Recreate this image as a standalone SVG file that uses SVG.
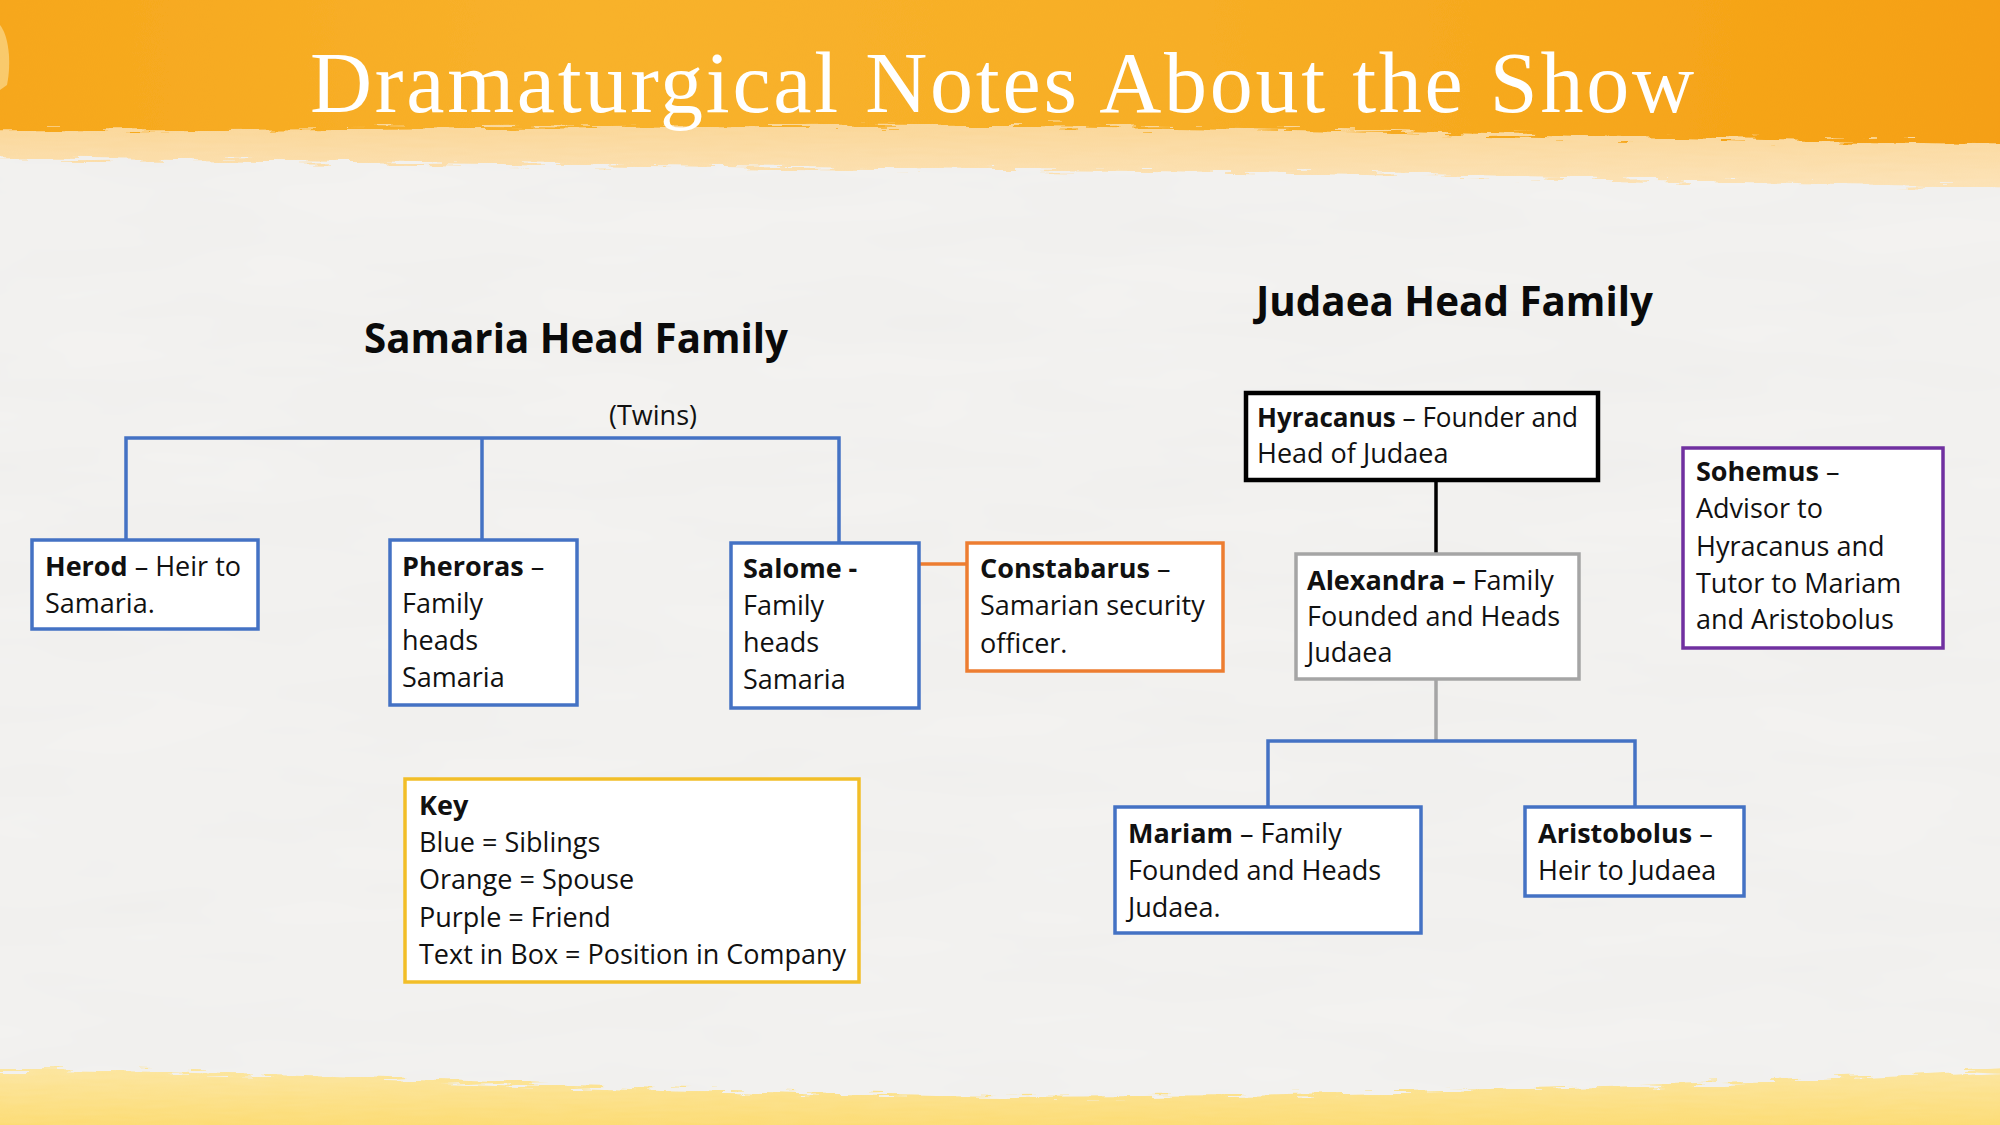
<svg xmlns="http://www.w3.org/2000/svg" width="2000" height="1125" viewBox="0 0 2000 1125">
<style>
  .t{font-family:"Open Sans","Liberation Sans",sans-serif;font-size:27px;fill:#111}
  .b{font-weight:bold}
  .h{font-family:"Open Sans","Liberation Sans",sans-serif;font-size:42px;font-weight:bold;fill:#0a0a0a}
  .box{fill:#fff;stroke-width:3.5}
  .blue{stroke:#4472C4}
  .orange{stroke:#ED7D31}
  .grey{stroke:#A5A5A5}
  .black{stroke:#000;stroke-width:4.5}
  .purple{stroke:#7030A0}
  .yellow{stroke:#F2BE28}
  .ln{fill:none;stroke-width:3.5}
</style>
<defs>
  <linearGradient id="topH" x1="0" y1="0" x2="1" y2="0">
    <stop offset="0" stop-color="#F6A61A"/>
    <stop offset="0.3" stop-color="#F8B22C"/>
    <stop offset="0.6" stop-color="#F7AE25"/>
    <stop offset="1" stop-color="#F59F12"/>
  </linearGradient>
  <linearGradient id="paleV" x1="0" y1="0" x2="0" y2="1">
    <stop offset="0.6" stop-color="#FAD28C"/>
    <stop offset="1" stop-color="#FCE3B8"/>
  </linearGradient>
  <linearGradient id="botV" x1="0" y1="0" x2="0" y2="1">
    <stop offset="0" stop-color="#FCE6A2"/>
    <stop offset="1" stop-color="#FCD658"/>
  </linearGradient>
  <filter id="rough" x="-5%" y="-30%" width="110%" height="160%">
    <feTurbulence type="fractalNoise" baseFrequency="0.03 0.25" numOctaves="2" seed="3"/>
    <feDisplacementMap in="SourceGraphic" scale="16" xChannelSelector="R" yChannelSelector="G"/>
  </filter>
  <filter id="paper" x="0" y="0" width="100%" height="100%">
    <feTurbulence type="fractalNoise" baseFrequency="0.004 0.02" numOctaves="3" seed="7"/>
    <feColorMatrix values="0 0 0 0 0.5  0 0 0 0 0.5  0 0 0 0 0.5  0 0 0 0.08 0"/>
  </filter>
</defs>

<g id="background">
  <rect width="2000" height="1125" fill="#F4F3F1"/>
  <rect width="2000" height="1125" filter="url(#paper)"/>
  <path d="M-40,-40 H2040 V188 C1700,182 1400,172 1000,170 C700,168 300,160 -40,158 Z" fill="url(#paleV)" filter="url(#rough)"/>
  <path d="M-40,-40 H2040 V145 C1700,140 1300,128 1000,126 C700,124 300,132 -40,130 Z" fill="url(#topH)" filter="url(#rough)"/>
  <path d="M0,25 C8,35 12,60 7,85 L0,90 Z" fill="#FBD88E" opacity="0.7"/>
  <path d="M-40,1070 C250,1068 600,1092 1000,1097 C1400,1095 1750,1085 2040,1068 V1165 H-40 Z" fill="url(#botV)" filter="url(#rough)"/>
</g>

<g id="title">
  <text x="310" y="112" textLength="1384" lengthAdjust="spacing" font-family="'Liberation Serif','DejaVu Serif',serif" font-size="86" fill="#FFFFFF">Dramaturgical Notes About the Show</text>
</g>

<g id="headings">
  <text class="h" x="364" y="353" textLength="424" lengthAdjust="spacingAndGlyphs">Samaria Head Family</text>
  <text class="h" x="1256" y="316" textLength="397" lengthAdjust="spacingAndGlyphs">Judaea Head Family</text>
  <text class="t" x="609" y="425">(Twins)</text>
</g>

<g id="connectors">
  <path class="ln blue" d="M126,540 V438 H839 V543"/>
  <path class="ln blue" d="M482,438 V540"/>
  <path class="ln orange" d="M920,564 H967"/>
  <path class="ln" stroke="#000" stroke-width="4.5" d="M1436,480 V554"/>
  <path class="ln grey" d="M1436,679 V741"/>
  <path class="ln blue" d="M1268,807 V741 H1635 V807"/>
</g>

<g id="herod">
  <rect class="box blue" x="32" y="540" width="226" height="89"/>
  <text class="t" x="45" y="576"><tspan class="b">Herod</tspan> – Heir to</text>
  <text class="t" x="45" y="613">Samaria.</text>
</g>

<g id="pheroras">
  <rect class="box blue" x="390" y="540" width="187" height="165"/>
  <text class="t" x="402" y="576"><tspan class="b">Pheroras</tspan> –</text>
  <text class="t" x="402" y="613">Family</text>
  <text class="t" x="402" y="650">heads</text>
  <text class="t" x="402" y="687">Samaria</text>
</g>

<g id="salome">
  <rect class="box blue" x="731" y="543" width="188" height="165"/>
  <text class="t b" x="743" y="578">Salome -</text>
  <text class="t" x="743" y="615">Family</text>
  <text class="t" x="743" y="652">heads</text>
  <text class="t" x="743" y="689">Samaria</text>
</g>

<g id="constabarus">
  <rect class="box orange" x="967" y="543" width="256" height="128"/>
  <text class="t" x="980" y="578"><tspan class="b">Constabarus</tspan> –</text>
  <text class="t" x="980" y="615">Samarian security</text>
  <text class="t" x="980" y="653">officer.</text>
</g>

<g id="hyracanus">
  <rect class="box black" x="1246" y="393" width="352" height="87"/>
  <text class="t" x="1257" y="427" textLength="321" lengthAdjust="spacingAndGlyphs"><tspan class="b">Hyracanus</tspan> – Founder and</text>
  <text class="t" x="1257" y="463">Head of Judaea</text>
</g>

<g id="alexandra">
  <rect class="box grey" x="1296" y="554" width="283" height="125"/>
  <text class="t" x="1307" y="590"><tspan class="b">Alexandra –</tspan> Family</text>
  <text class="t" x="1307" y="626">Founded and Heads</text>
  <text class="t" x="1307" y="662">Judaea</text>
</g>

<g id="sohemus">
  <rect class="box purple" x="1683" y="448" width="260" height="200"/>
  <text class="t" x="1696" y="481"><tspan class="b">Sohemus</tspan> –</text>
  <text class="t" x="1696" y="518">Advisor to</text>
  <text class="t" x="1696" y="556">Hyracanus and</text>
  <text class="t" x="1696" y="593">Tutor to Mariam</text>
  <text class="t" x="1696" y="629">and Aristobolus</text>
</g>

<g id="mariam">
  <rect class="box blue" x="1115" y="807" width="306" height="126"/>
  <text class="t" x="1128" y="843"><tspan class="b">Mariam</tspan> – Family</text>
  <text class="t" x="1128" y="880">Founded and Heads</text>
  <text class="t" x="1128" y="917">Judaea.</text>
</g>

<g id="aristobolus">
  <rect class="box blue" x="1525" y="807" width="219" height="89"/>
  <text class="t" x="1538" y="843"><tspan class="b">Aristobolus</tspan> –</text>
  <text class="t" x="1538" y="880">Heir to Judaea</text>
</g>

<g id="key">
  <rect class="box yellow" x="405" y="779" width="454" height="203"/>
  <text class="t b" x="419" y="815">Key</text>
  <text class="t" x="419" y="852">Blue = Siblings</text>
  <text class="t" x="419" y="889">Orange = Spouse</text>
  <text class="t" x="419" y="927">Purple = Friend</text>
  <text class="t" x="419" y="964">Text in Box = Position in Company</text>
</g>
</svg>
